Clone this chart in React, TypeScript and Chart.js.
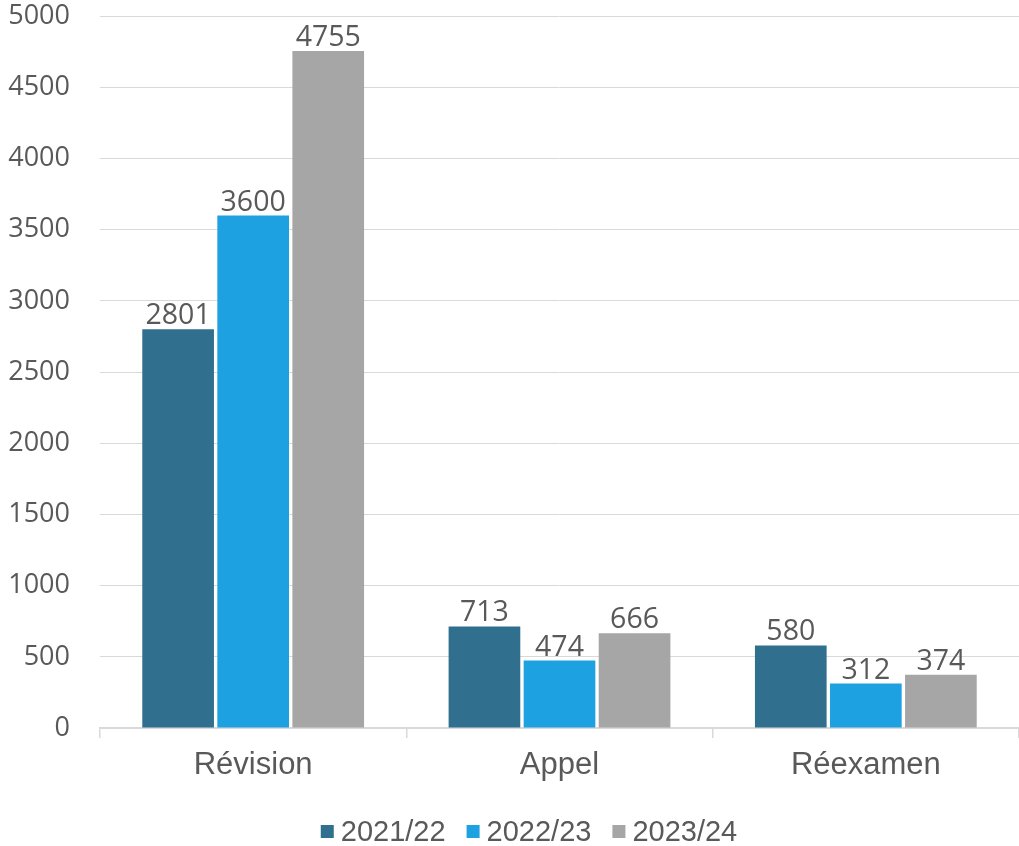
import React, { useEffect, useRef } from "react";
import { Chart, registerables } from "chart.js";

Chart.register(...registerables);

const categories = ["Révision", "Appel", "Réexamen"];
const seriesNames = ["2021/22", "2022/23", "2023/24"];
const values2021 = [2801, 713, 580];
const values2022 = [3600, 474, 312];
const values2023 = [4755, 666, 374];
const colors = ["#306F8D", "#1DA1E1", "#A6A6A6"];

const dataLabelPlugin = {
  id: "dataLabels",
  afterDatasetsDraw(chart: any) {
    const ctx = chart.ctx;
    ctx.save();
    ctx.font = "28.5px 'Open Sans'";
    ctx.fillStyle = "#595959";
    ctx.textAlign = "center";
    ctx.textBaseline = "alphabetic";
    chart.data.datasets.forEach((ds: any, i: number) => {
      const meta = chart.getDatasetMeta(i);
      meta.data.forEach((bar: any, j: number) => {
        ctx.fillText(String(ds.data[j]), bar.x, bar.y - 5);
      });
    });
    ctx.restore();
  },
};

const customLegendPlugin = {
  id: "customLegend",
  afterDraw(chart: any) {
    const ctx = chart.ctx;
    ctx.save();
    ctx.font = "29px 'Liberation Sans', Arial";
    ctx.textBaseline = "middle";
    ctx.textAlign = "left";
    const box = 13;
    const gap = 7;
    const spacing = 21;
    const items = chart.data.datasets.map((ds: any) => ({
      label: ds.label,
      color: ds.backgroundColor,
      w: box + gap + ctx.measureText(ds.label).width,
    }));
    const total = items.reduce((s: number, it: any) => s + it.w, 0) + spacing * (items.length - 1);
    let x = 529 - total / 2;
    const cy = 831.5;
    items.forEach((it: any) => {
      ctx.fillStyle = it.color;
      ctx.fillRect(x, cy - box / 2, box, box);
      ctx.fillStyle = "#595959";
      ctx.fillText(it.label, x + box + gap, cy + 1);
      x += it.w + spacing;
    });
    ctx.restore();
  },
};

export default function App() {
  const ref = useRef<HTMLCanvasElement>(null);
  useEffect(() => {
    document.body.style.margin = "0";
    const chart = new Chart(ref.current!, {
      type: "bar",
      data: {
        labels: categories,
        datasets: [
          { label: seriesNames[0], data: values2021, backgroundColor: colors[0] },
          { label: seriesNames[1], data: values2022, backgroundColor: colors[1] },
          { label: seriesNames[2], data: values2023, backgroundColor: colors[2] },
        ],
      },
      options: {
        responsive: false,
        animation: false,
        layout: { padding: { top: 0, right: 0, left: 0, bottom: 58 } },
        datasets: { bar: { categoryPercentage: 0.735, barPercentage: 0.955 } },
        plugins: {
          legend: { display: false },
          tooltip: { enabled: false },
        },
        scales: {
          x: {
            afterFit(scale: any) {
              scale.height = 60;
            },
            grid: {
              offset: true,
              drawOnChartArea: false,
              drawTicks: true,
              tickLength: 10,
              color: "#D9D9D9",
              lineWidth: 1.5,
            },
            border: { display: true, color: "#D9D9D9", width: 1.5 },
            ticks: {
              color: "#595959",
              padding: 9,
              font: { family: "'Liberation Sans', Arial", size: 31 },
            },
          },
          y: {
            min: 0,
            max: 5000,
            afterFit(scale: any) {
              scale.width = 100;
            },
            grid: {
              color: "#D9D9D9",
              lineWidth: 1,
              drawTicks: true,
              tickLength: 30,
              tickColor: "rgba(0,0,0,0)",
            },
            border: { display: false },
            ticks: {
              stepSize: 500,
              padding: 0,
              color: "#595959",
              font: { family: "'Open Sans'", size: 27 },
              callback: (v: any) => String(v),
            },
          },
        },
      },
      plugins: [dataLabelPlugin, customLegendPlugin],
    });
    return () => chart.destroy();
  }, []);
  return (
    <div style={{ width: 1019, height: 846 }}>
      <canvas ref={ref} width={1019} height={846} />
    </div>
  );
}
